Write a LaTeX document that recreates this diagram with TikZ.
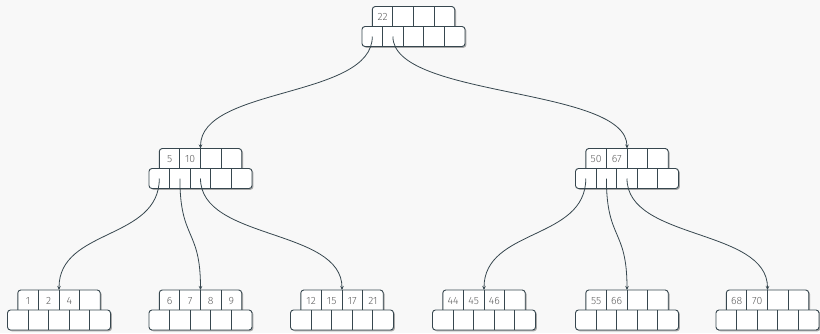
\documentclass[tikz,border=0pt]{standalone}
\usepackage{fontspec}
\setmainfont{Fira Sans}[UprightFont={* Light}]
\usetikzlibrary{arrows.meta}
\definecolor{bgc}{HTML}{F8F8F8}
\definecolor{linec}{HTML}{37474F}
\definecolor{txtc}{HTML}{606060}
\definecolor{shc}{HTML}{A8A8A8}
\tikzset{
  cellbox/.style={fill=white,draw=linec,line width=0.9pt},
  shadowbox/.style={fill=shc},
  divider/.style={draw=linec,line width=0.9pt},
  keytxt/.style={text=txtc,font=\fontsize{10.5}{12}\selectfont,inner sep=0pt,anchor=center},
  link/.style={draw=linec,line width=0.8pt,-{Stealth[length=4pt,width=3.5pt]}}
}
\newcommand\btnode[7]{%
\begin{scope}[shift={(#2,#3)}]
  \fill[shadowbox,rounded corners=3] (-39.8,1.3) rectangle (42.6,25);
  \fill[shadowbox,rounded corners=3] (-50.1,21.3) rectangle (52.9,41.3);
  \path[cellbox,rounded corners=3] (-41.2,0) rectangle (41.2,24);
  \path[cellbox,rounded corners=3] (-51.5,20) rectangle (51.5,40);
  \foreach \xx in {-20.6,0,20.6} \draw[divider] (\xx,0) -- (\xx,20);
  \foreach \xx in {-30.9,-10.3,10.3,30.9} \draw[divider] (\xx,20) -- (\xx,40);
  \node[keytxt] (#1-k1) at (-30.9,10.6) {#4};
  \node[keytxt] (#1-k2) at (-10.3,10.6) {#5};
  \node[keytxt] (#1-k3) at (10.3,10.6) {#6};
  \node[keytxt] (#1-k4) at (30.9,10.6) {#7};
  \coordinate (#1-top) at (0,0);
  \coordinate (#1-p0) at (-41.2,30);
  \coordinate (#1-p1) at (-20.6,30);
  \coordinate (#1-p2) at (0,30);
  \coordinate (#1-p3) at (20.6,30);
  \coordinate (#1-p4) at (41.2,30);
\end{scope}}
\newcommand\btlink[2]{\draw[link] (#1) .. controls +(0,62) and +(0,-62) .. (#2);}
\begin{document}
\begin{tikzpicture}[x=1pt,y=-1pt]
\fill[bgc] (0,0) rectangle (820,333);
\useasboundingbox (0,0) rectangle (820,333);
\btnode{r}{413.5}{6.5}{22}{}{}{}
\btnode{a}{200.5}{148.5}{5}{10}{}{}
\btnode{b}{627}{148.5}{50}{67}{}{}
\btnode{c1}{59}{290}{1}{2}{4}{}
\btnode{c2}{200.5}{290}{6}{7}{8}{9}
\btnode{c3}{342}{290}{12}{15}{17}{21}
\btnode{c4}{484}{290}{44}{45}{46}{}
\btnode{c5}{627}{290}{55}{66}{}{}
\btnode{c6}{767.5}{290}{68}{70}{}{}
\btlink{r-p0}{a-top}
\btlink{r-p1}{b-top}
\btlink{a-p0}{c1-top}
\btlink{a-p1}{c2-top}
\btlink{a-p2}{c3-top}
\btlink{b-p0}{c4-top}
\btlink{b-p1}{c5-top}
\btlink{b-p2}{c6-top}
\end{tikzpicture}
\end{document}
